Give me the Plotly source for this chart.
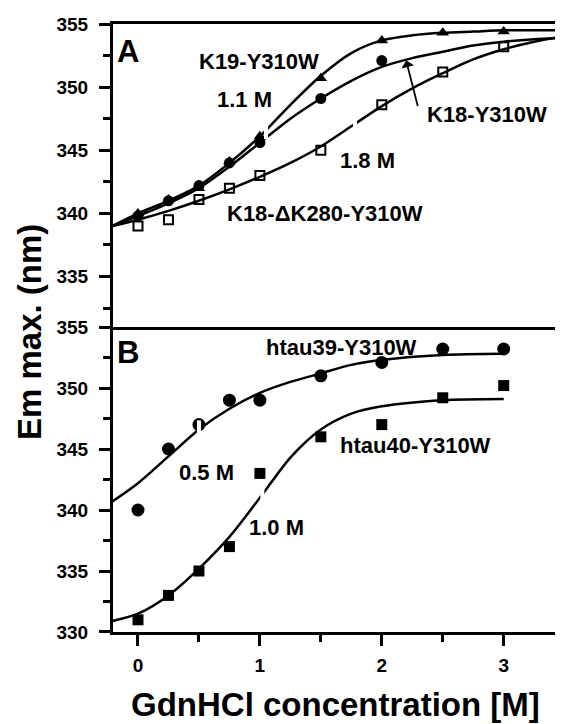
import numpy as np
import plotly.graph_objects as go

# ---------------- Panel A data ----------------
conc_A = [0, 0.25, 0.5, 0.75, 1.0, 1.5, 2.0, 2.5, 3.0, 3.5]
k19_pts = [340.0, 341.1, 342.0, 344.1, 346.1, 350.7, 353.7, 354.3, 354.4, 354.4]
conc_A_k18 = [0, 0.25, 0.5, 0.75, 1.0, 1.5, 2.0, 3.5]
k18_pts = [339.8, 341.0, 342.2, 344.0, 345.6, 349.1, 352.1, 354.0]
dk280_pts = [339.0, 339.5, 341.1, 342.0, 343.0, 345.0, 348.6, 351.2, 353.2, 353.7]

curve_x_A = [-0.21, 0, 0.25, 0.5, 0.75, 1.0, 1.25, 1.5, 1.75, 2.0, 2.25, 2.5, 2.75, 3.0, 3.25, 3.47]
k19_fit = [339.0, 340.0, 341.0, 342.2, 344.0, 346.1, 348.6, 350.9, 352.7, 353.7, 354.1, 354.3, 354.4, 354.5, 354.5, 354.5]
k18_fit = [339.0, 339.8, 340.8, 342.0, 343.7, 345.6, 347.5, 349.1, 350.5, 351.6, 352.3, 352.8, 353.3, 353.6, 353.8, 353.9]
dk280_fit = [339.0, 339.5, 340.2, 341.0, 341.9, 342.9, 344.0, 345.3, 346.9, 348.5, 349.9, 351.1, 352.2, 353.0, 353.6, 354.0]

# ---------------- Panel B data ----------------
conc_B = [0, 0.25, 0.5, 0.75, 1.0, 1.5, 2.0, 2.5, 3.0]
htau39_pts = [340.0, 345.0, 347.0, 349.0, 349.0, 351.0, 352.1, 353.2, 353.2]
htau40_pts = [331.0, 333.0, 335.0, 337.0, 343.0, 346.0, 347.0, 349.2, 350.2]

curve_x_B = [-0.21, 0, 0.25, 0.5, 0.75, 1.0, 1.25, 1.5, 1.75, 2.0, 2.5, 3.0]
htau39_fit = [340.7, 342.2, 344.4, 346.6, 348.3, 349.6, 350.5, 351.2, 351.9, 352.3, 352.7, 352.8]
htau40_fit = [330.9, 331.5, 333.0, 335.2, 337.8, 341.0, 344.3, 346.6, 347.9, 348.5, 349.0, 349.1]

# small white breaks drawn in the fitted curves (near the transition midpoints)
break_x_k19 = [1.05]
break_x_dk280 = [1.78]
break_x_htau39 = [0.5]
break_x_htau40 = [1.02]

x_ticks = [0, 1, 2, 3]

FONT = "Liberation Sans, Arial, sans-serif"
BLACK = "black"

fig = go.Figure()

line_style = dict(color=BLACK, width=2.5, shape="spline", smoothing=0.8)

def add_break(bx, cx, cy, xa, ya):
    fig.add_trace(go.Scatter(x=bx, y=list(np.interp(bx, cx, cy)), mode="markers", xaxis=xa, yaxis=ya,
                             marker=dict(symbol="line-ns", size=13, line=dict(width=4, color="white"))))

# Panel A
fig.add_trace(go.Scatter(x=curve_x_A, y=k19_fit, mode="lines", line=line_style, xaxis="x2", yaxis="y2"))
fig.add_trace(go.Scatter(x=curve_x_A, y=k18_fit, mode="lines", line=line_style, xaxis="x2", yaxis="y2"))
fig.add_trace(go.Scatter(x=curve_x_A, y=dk280_fit, mode="lines", line=line_style, xaxis="x2", yaxis="y2"))
fig.add_trace(go.Scatter(x=conc_A, y=dk280_pts, mode="markers", xaxis="x2", yaxis="y2",
                         marker=dict(symbol="square-open", size=9, color=BLACK, line=dict(width=2, color=BLACK))))
fig.add_trace(go.Scatter(x=conc_A_k18, y=k18_pts, mode="markers", xaxis="x2", yaxis="y2",
                         marker=dict(symbol="circle", size=11, color=BLACK)))
fig.add_trace(go.Scatter(x=conc_A, y=k19_pts, mode="markers", xaxis="x2", yaxis="y2",
                         marker=dict(symbol="triangle-up", size=11, color=BLACK)))
add_break(break_x_k19, curve_x_A, k19_fit, "x2", "y2")
add_break(break_x_dk280, curve_x_A, dk280_fit, "x2", "y2")

# Panel B
fig.add_trace(go.Scatter(x=curve_x_B, y=htau39_fit, mode="lines", line=line_style, xaxis="x", yaxis="y"))
fig.add_trace(go.Scatter(x=curve_x_B, y=htau40_fit, mode="lines", line=line_style, xaxis="x", yaxis="y"))
fig.add_trace(go.Scatter(x=conc_B, y=htau39_pts, mode="markers", xaxis="x", yaxis="y",
                         marker=dict(symbol="circle", size=13, color=BLACK)))
fig.add_trace(go.Scatter(x=conc_B, y=htau40_pts, mode="markers", xaxis="x", yaxis="y",
                         marker=dict(symbol="square", size=11, color=BLACK)))
add_break(break_x_htau39, curve_x_B, htau39_fit, "x", "y")
add_break(break_x_htau40, curve_x_B, htau40_fit, "x", "y")

tickfont = dict(family=FONT, size=19, color=BLACK, weight="bold")
common_axis = dict(showline=True, linewidth=3, linecolor=BLACK, showgrid=False, automargin=False,
                   zeroline=False, ticks="outside", tickwidth=3, ticklen=11, tickcolor=BLACK,
                   tickfont=tickfont)

split = 0.5016

# page body has an 8px margin, so the figure is sized/margined to land where the reference is
fig.update_layout(
    width=555, height=716,
    margin=dict(l=105, r=2, t=16, b=92),
    paper_bgcolor="white", plot_bgcolor="white",
    showlegend=False,
    xaxis=dict(common_axis, domain=[0, 1], anchor="y", range=[-0.205, 3.47], mirror=False,
               tickvals=x_ticks, ticklabelstandoff=3,
               minor=dict(dtick=0.5, tick0=0, ticks="outside", ticklen=7, tickwidth=3, tickcolor=BLACK)),
    yaxis=dict(common_axis, domain=[0, split], anchor="x", range=[330, 355], dtick=5, tick0=330,
               mirror=True, ticklabelstandoff=7,
               minor=dict(dtick=2.5, tick0=330, ticks="outside", ticklen=7, tickwidth=3, tickcolor=BLACK)),
    xaxis2=dict(showline=True, linewidth=3, linecolor=BLACK, mirror=True, showgrid=False, zeroline=False,
                automargin=False, ticks="", showticklabels=False, anchor="y2", matches="x",
                range=[-0.205, 3.47]),
    yaxis2=dict(common_axis, domain=[split, 1], anchor="x2", range=[331, 355], dtick=5, tick0=330,
                mirror=True, ticklabelstandoff=7,
                minor=dict(dtick=2.5, tick0=330, ticks="outside", ticklen=7, tickwidth=3, tickcolor=BLACK)),
)

def label(text, x, y, panel, size=22, xanchor="center"):
    xr, yr = ("x2", "y2") if panel == "A" else ("x", "y")
    fig.add_annotation(text=text, x=x, y=y, xref=xr, yref=yr, showarrow=False,
                       xanchor=xanchor, yanchor="middle",
                       font=dict(family=FONT, size=size, color=BLACK, weight="bold"))

label("A", -0.19, 352.8, "A", size=31, xanchor="left")
label("K19-Y310W", 0.99, 352.0, "A")
label("1.1 M", 0.87, 349.0, "A")
label("K18-Y310W", 2.86, 347.8, "A")
label("1.8 M", 1.88, 344.2, "A")
label("K18-ΔK280-Y310W", 1.53, 340.0, "A")

label("B", -0.19, 352.9, "B", size=31, xanchor="left")
label("htau39-Y310W", 1.67, 353.3, "B")
label("0.5 M", 0.56, 343.1, "B")
label("htau40-Y310W", 2.28, 345.3, "B")
label("1.0 M", 1.14, 338.6, "B")

# arrow pointing to K18-Y310W curve
fig.add_annotation(x=2.20, y=352.1, xref="x2", yref="y2", text="", showarrow=True,
                   ax=12, ay=47, arrowhead=1, arrowsize=1.2, arrowwidth=1.8, arrowcolor=BLACK)

# axis titles
fig.add_annotation(text="Em max. (nm)", x=-0.188, y=0.493, xref="paper", yref="paper",
                   showarrow=False, textangle=-90, xanchor="center", yanchor="middle",
                   font=dict(family=FONT, size=33, color=BLACK, weight="bold"))
fig.add_annotation(text="GdnHCl concentration [M]", x=0.496, y=-0.12, xref="paper", yref="paper",
                   showarrow=False, xanchor="center", yanchor="middle",
                   font=dict(family=FONT, size=33, color=BLACK, weight="bold"))

fig.write_html("out.html")
